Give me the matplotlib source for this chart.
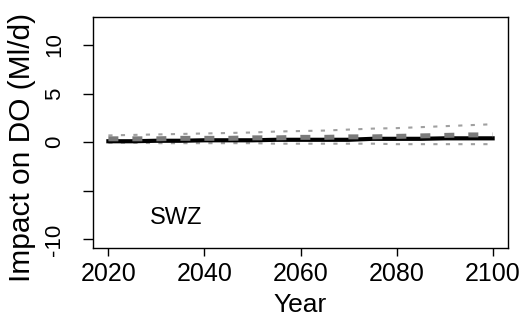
import numpy as np
import matplotlib.pyplot as plt

plt.rcParams['font.family'] = ['Liberation Sans', 'DejaVu Sans']

# Data (every 5 years)

years = [2020, 2025, 2030, 2035, 2040, 2045, 2050, 2055, 2060, 2065,
         2070, 2075, 2080, 2085, 2090, 2095, 2100]
median = [0.1, 0.1, 0.15, 0.15, 0.2, 0.2, 0.2, 0.25, 0.25, 0.25,
          0.25, 0.35, 0.35, 0.35, 0.4, 0.4, 0.4]
mean = [0.35, 0.35, 0.35, 0.4, 0.4, 0.4, 0.45, 0.45, 0.5, 0.5,
        0.55, 0.55, 0.6, 0.65, 0.7, 0.75, 0.75]
upper = [0.7, 0.75, 0.8, 0.85, 0.9, 0.95, 1.0, 1.1, 1.15, 1.2,
         1.3, 1.4, 1.45, 1.55, 1.65, 1.75, 1.85]
lower = [-0.05, -0.05, -0.1, -0.1, -0.1, -0.1, -0.1, -0.15, -0.15, -0.15,
         -0.15, -0.15, -0.2, -0.2, -0.2, -0.2, -0.2]
region = 'SWZ'

fig = plt.figure(figsize=(5.28, 3.29), dpi=100)
ax = fig.add_axes([93 / 528, 1 - 248 / 329, 415 / 528, 231 / 329])

ax.plot(years, upper, color='#a0a0a0', lw=1.5, ls=(0, (2, 4)))
ax.plot(years, lower, color='#a0a0a0', lw=1.5, ls=(0, (2, 4)))
ax.plot(years, median, color='black', lw=3)
ax.plot(years, mean, color='#7a7a7a', lw=3.6, ls=(0, (2, 2.8)))

ax.text(2028.7, -7.8, region, fontsize=17, va='center')

ax.set_xlim(2016.8, 2103.2)
ax.set_ylim(-10.88, 12.88)
ax.set_xticks([2020, 2040, 2060, 2080, 2100])
ax.set_yticks([-10, -5, 0, 5, 10])
ax.set_yticklabels(['-10', '', '0', '5', '10'], rotation=90, va='center')
ax.tick_params(axis='x', labelsize=18, length=6, width=1, pad=4)
ax.tick_params(axis='y', labelsize=16, length=7, width=1, pad=13)
for s in ax.spines.values():
    s.set_linewidth(1)

fig.text(300 / 528, 1 - 305 / 329, 'Year', fontsize=19, ha='center', va='center')
fig.text(22 / 528, 1 - 147 / 329, 'Impact on DO (Ml/d)', fontsize=21.5,
         rotation=90, ha='center', va='center')

fig.savefig('out.png', dpi=100)
